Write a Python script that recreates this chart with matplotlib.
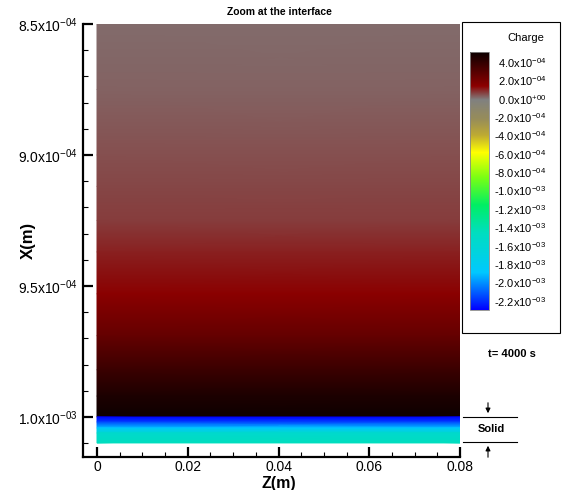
import numpy as np
import matplotlib
matplotlib.use('Agg')
import matplotlib.pyplot as plt
from matplotlib.colors import LinearSegmentedColormap
from matplotlib.ticker import FixedLocator

plt.rcParams['font.family'] = ['Liberation Sans', 'DejaVu Sans']
plt.rcParams['mathtext.default'] = 'regular'

# Datos
z_borde = [0.0, 0.08]

# Liquido: posicion X (m) y carga
x_liquido = [8.50e-4, 8.75e-4, 9.00e-4, 9.12e-4, 9.25e-4, 9.37e-4,
             9.53e-4, 9.69e-4, 9.82e-4, 9.92e-4, 1.00e-3]
carga_liquido = [0.20e-4, 0.35e-4, 0.50e-4, 0.62e-4, 0.80e-4, 1.03e-4,
                 1.50e-4, 2.67e-4, 3.83e-4, 4.70e-4, 5.20e-4]

# Solido
x_solido = [1.0000e-3, 1.0019e-3, 1.0042e-3, 1.0061e-3, 1.0099e-3]
carga_solido = [-2.29e-3, -2.15e-3, -1.88e-3, -1.55e-3, -1.45e-3]

# Escala de colores tipo Tecplot
vmin, vmax = -2.29e-3, 5.2e-4
anclas_valor = [-2.29e-3, -1.88e-3, -1.45e-3, -1.15e-3, -0.85e-3, -0.57e-3,
                -0.38e-3, -0.20e-3, 0.0, 1.5e-4, 5.2e-4]
anclas_color = [(0, 0, 255), (0, 200, 255), (0, 222, 190), (0, 238, 100),
                (120, 255, 20), (255, 255, 0), (190, 170, 50), (150, 140, 90),
                (128, 128, 128), (140, 0, 0), (13, 0, 0)]

ticks_cb = [4e-4, 2e-4, 0.0, -2e-4, -4e-4, -6e-4, -8e-4, -1.0e-3, -1.2e-3,
            -1.4e-3, -1.6e-3, -1.8e-3, -2.0e-3, -2.2e-3]
etiquetas_cb = ['4.0x10$^{-04}$', '2.0x10$^{-04}$', '0.0x10$^{+00}$',
                '-2.0x10$^{-04}$', '-4.0x10$^{-04}$', '-6.0x10$^{-04}$',
                '-8.0x10$^{-04}$', '-1.0x10$^{-03}$', '-1.2x10$^{-03}$',
                '-1.4x10$^{-03}$', '-1.6x10$^{-03}$', '-1.8x10$^{-03}$',
                '-2.0x10$^{-03}$', '-2.2x10$^{-03}$']

ticks_y = [8.5e-4, 9.0e-4, 9.5e-4, 1.0e-3]
etiquetas_y = ['8.5x10$^{-04}$', '9.0x10$^{-04}$', '9.5x10$^{-04}$', '1.0x10$^{-03}$']
ticks_x = [0, 0.02, 0.04, 0.06, 0.08]
etiquetas_x = ['0', '0.02', '0.04', '0.06', '0.08']

pos = [(v - vmin) / (vmax - vmin) for v in anclas_valor]
cmap = LinearSegmentedColormap.from_list(
    'tecplot', [(p, tuple(c / 255 for c in col)) for p, col in zip(pos, anclas_color)])

W, H = 564, 490
fig = plt.figure(figsize=(W / 100, H / 100), dpi=100)
ax = fig.add_axes([83 / W, 1 - 457 / H, (460 - 83) / W, (457 - 24) / H])

for xs, cs in [(x_liquido, carga_liquido), (x_solido, carga_solido)]:
    ZZ, XX = np.meshgrid(z_borde, xs)
    CC = np.tile(np.array(cs)[:, None], (1, 2))
    m = ax.pcolormesh(ZZ, XX, CC, cmap=cmap, vmin=vmin, vmax=vmax, shading='gouraud')

ax.set_xlim(-14 * 0.08 / 363, 0.08)
ax.set_ylim(8.5e-4 + 433 / 131 * 5e-5, 8.5e-4)
for s in ['top', 'right']:
    ax.spines[s].set_visible(False)
for s in ['left', 'bottom']:
    ax.spines[s].set_linewidth(1.6)

ax.set_xticks(ticks_x)
ax.set_xticklabels(etiquetas_x)
ax.set_yticks(ticks_y)
ax.set_yticklabels(etiquetas_y)
ax.xaxis.set_minor_locator(FixedLocator(np.arange(0, 0.0801, 0.005)))
ax.yaxis.set_minor_locator(FixedLocator(np.arange(8.5e-4, 1.0101e-3, 1e-5)))
ax.tick_params(which='major', direction='in', length=7, width=1.6, labelsize=10, pad=4)
ax.tick_params(axis='x', which='major', pad=2)
ax.tick_params(which='minor', direction='in', length=3.5, width=0.8)

fig.text(28 / W, 1 - 240 / H, 'X(m)', fontsize=12, fontweight='bold', rotation=90,
         ha='center', va='center')
fig.text(279 / W, 1 - 488 / H, 'Z(m)', fontsize=11.5, fontweight='bold', ha='center', va='baseline')
fig.text(279 / W, 1 - 12 / H, 'Zoom at the interface', fontsize=7.5, fontweight='bold',
         ha='center', va='center')

# Leyenda (caja de la barra de colores)
fig.patches.append(plt.Rectangle((462 / W, 1 - 333 / H), 98 / W, 311 / H, fill=False,
                                 edgecolor='black', linewidth=0.8, transform=fig.transFigure))
fig.text(526 / W, 1 - 38 / H, 'Charge', fontsize=8, ha='center', va='center')
cax = fig.add_axes([470 / W, 1 - 310 / H, 19 / W, 258 / H])
cb = fig.colorbar(m, cax=cax)
cb.outline.set_linewidth(0.6)
cb.outline.set_edgecolor('#888888')
cax.set_yticks([])
for v, t in zip(ticks_cb, etiquetas_cb):
    cax.text((546 - 470) / 19, v, t, fontsize=8, ha='right', va='center', clip_on=False)

fig.text(512 / W, 1 - 354 / H, 't= 4000 s', fontsize=8, fontweight='bold', ha='center', va='center')

# Indicacion del solido
for yy in [417, 442]:
    fig.add_artist(plt.Line2D([463 / W, 517 / W], [1 - yy / H, 1 - yy / H],
                              color='black', linewidth=0.8, transform=fig.transFigure))
fig.text(491 / W, 1 - 429 / H, 'Solid', fontsize=8, fontweight='bold', ha='center', va='center')
fig.add_artist(matplotlib.patches.FancyArrowPatch((488 / W, 1 - 400 / H), (488 / W, 1 - 416 / H),
               transform=fig.transFigure, arrowstyle='-|>', mutation_scale=7, color='black', lw=0.8))
fig.add_artist(matplotlib.patches.FancyArrowPatch((488 / W, 1 - 460 / H), (488 / W, 1 - 443 / H),
               transform=fig.transFigure, arrowstyle='-|>', mutation_scale=7, color='black', lw=0.8))

fig.savefig('out.png', dpi=100)
